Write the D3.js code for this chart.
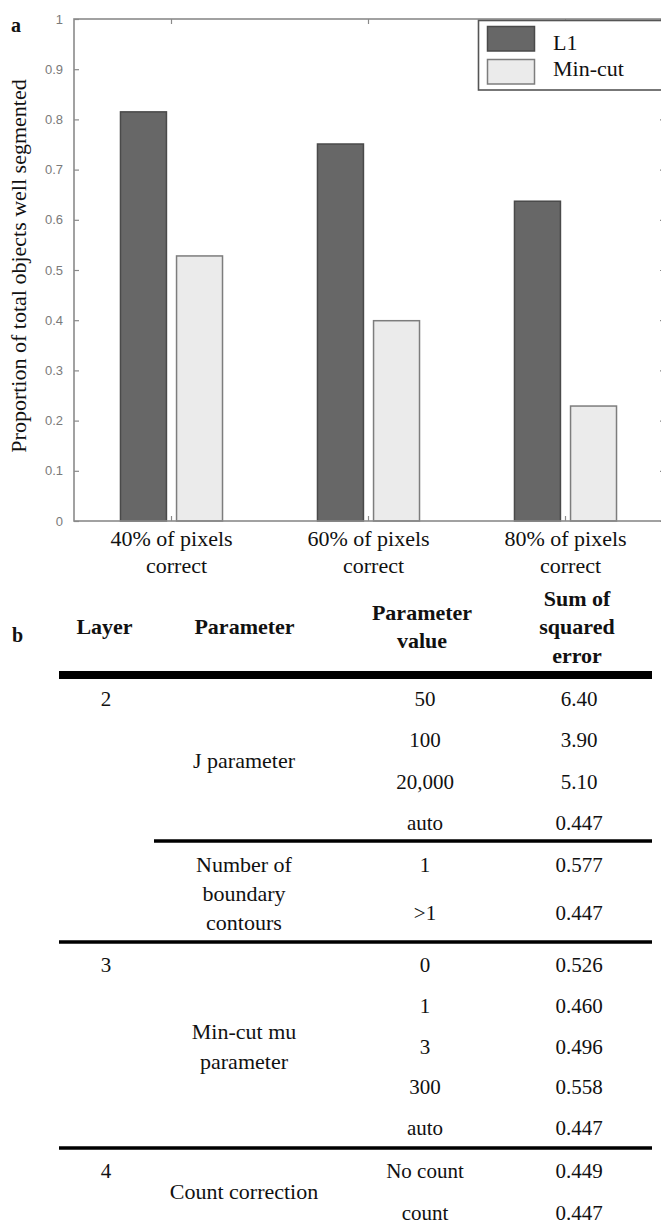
<!DOCTYPE html>
<html>
<head>
<meta charset="utf-8">
<script src="https://cdn.jsdelivr.net/npm/d3@7"></script>
<style>
  html, body { margin: 0; padding: 0; background: #fff; }
  svg { display: block; }
  .serif { font-family: "Liberation Serif", "Times New Roman", Tinos, serif; }
  .sans { font-family: "Liberation Sans", Arial, sans-serif; }
</style>
</head>
<body>
<svg id="fig" width="661" height="1226"></svg>
<script>
// ---------------- data: panel a ----------------
const categories = ["40% of pixels|correct", "60% of pixels|correct", "80% of pixels|correct"];
const seriesNames = ["L1", "Min-cut"];
const l1Values = [0.815, 0.751, 0.637];
const minCutValues = [0.528, 0.399, 0.229];
const yTickValues = [0, 0.1, 0.2, 0.3, 0.4, 0.5, 0.6, 0.7, 0.8, 0.9, 1];
const yAxisLabel = "Proportion of total objects well segmented";

// ---------------- data: panel b (table) ----------------
const tableHeaders = [["Layer"], ["Parameter"], ["Parameter", "value"], ["Sum of", "squared", "error"]];
const layerLabels = ["2", "", "3", "4"];
const parameterNames = [["J parameter"], ["Number of", "boundary", "contours"], ["Min-cut mu", "parameter"], ["Count correction"]];
const parameterValues = [
  ["50", "100", "20,000", "auto"],
  ["1", ">1"],
  ["0", "1", "3", "300", "auto"],
  ["No count", "count"]
];
const sumSquaredError = [
  ["6.40", "3.90", "5.10", "0.447"],
  ["0.577", "0.447"],
  ["0.526", "0.460", "0.496", "0.558", "0.447"],
  ["0.449", "0.447"]
];

// ---------------- layout ----------------
const svg = d3.select("#fig");
const SERIF = '"Liberation Serif", "Times New Roman", Tinos, serif';
const SANS = '"Liberation Sans", Arial, sans-serif';
const plot = { left: 74, right: 665, top: 19, bottom: 521 };
const fills = { "L1": "#676767", "Min-cut": "#ebebeb" };
const strokes = { "L1": "#4a4a4a", "Min-cut": "#7d7d7d" };

const x = d3.scaleBand().domain(categories).range([plot.left - 1, plot.right - 1])
  .paddingInner(0.482).paddingOuter(0.241);
const xs = d3.scaleBand().domain(seriesNames).range([0, x.bandwidth()]).paddingInner(0.18);
const y = d3.scaleLinear().domain([0, 1]).range([plot.bottom, plot.top]);

const barData = [];
categories.forEach((c, i) => {
  barData.push({ cat: c, s: "L1", v: l1Values[i] });
  barData.push({ cat: c, s: "Min-cut", v: minCutValues[i] });
});

function serifText(g, size, bold) {
  const t = g.append("text").attr("class", "serif").style("font-family", SERIF)
    .attr("font-size", size).attr("fill", "#111");
  if (bold) t.attr("font-weight", "bold");
  return t;
}

const gA = svg.append("g");

// panel letter
serifText(gA, 20, true).attr("x", 11).attr("y", 32).text("a");

// bars
gA.selectAll("rect.bar").data(barData).join("rect").attr("class", "bar")
  .attr("x", d => x(d.cat) + xs(d.s))
  .attr("width", xs.bandwidth())
  .attr("y", d => y(d.v))
  .attr("height", d => y(0) - y(d.v))
  .attr("fill", d => fills[d.s])
  .attr("stroke", d => strokes[d.s])
  .attr("stroke-width", 1.5);

// axes (inward ticks)
const axisColor = "#8a8a8a";
const leftAxis = gA.append("g").attr("transform", `translate(${plot.left},0)`)
  .call(d3.axisLeft(y).tickValues(yTickValues).tickSize(-5).tickPadding(11)
    .tickFormat(d => String(+d.toFixed(1))));
const rightAxis = gA.append("g").attr("transform", `translate(${plot.right},0)`)
  .call(d3.axisRight(y).tickValues(yTickValues).tickSize(-5).tickFormat(""));
const bottomAxis = gA.append("g").attr("transform", `translate(0,${plot.bottom})`)
  .call(d3.axisBottom(x).tickSize(-5).tickFormat(""));
const topAxis = gA.append("g").attr("transform", `translate(0,${plot.top})`)
  .call(d3.axisTop(x).tickSize(-5).tickFormat(""));
[leftAxis, rightAxis, bottomAxis, topAxis].forEach(a => {
  a.select(".domain").remove();
  a.selectAll(".tick line").attr("stroke", axisColor).attr("stroke-width", 1.2);
});
leftAxis.attr("font-family", null).attr("font-size", null);
leftAxis.selectAll(".tick text").attr("class", "sans").style("font-family", SANS)
  .attr("font-size", 13).attr("fill", "#7a7a7a");

// frame
gA.append("rect").attr("x", plot.left).attr("y", plot.top)
  .attr("width", plot.right - plot.left).attr("height", plot.bottom - plot.top)
  .attr("fill", "none").attr("stroke", axisColor).attr("stroke-width", 1.6);

// x labels (two lines)
categories.forEach(c => {
  const lines = c.split("|");
  const cx = x(c) + x.bandwidth() / 2;
  serifText(gA, 22).attr("x", cx).attr("y", 546).attr("text-anchor", "middle").text(lines[0]);
  serifText(gA, 22).attr("x", cx + 5).attr("y", 573).attr("text-anchor", "middle").text(lines[1]);
});

// y label
serifText(gA, 22).attr("transform", "translate(26,266) rotate(-90)")
  .attr("text-anchor", "middle").text(yAxisLabel);

// legend
const lg = gA.append("g");
lg.append("rect").attr("x", 478.5).attr("y", 20.5).attr("width", 220).attr("height", 69.5)
  .attr("fill", "#fff").attr("stroke", "#555").attr("stroke-width", 1.6);
seriesNames.forEach((s, i) => {
  lg.append("rect").attr("x", 487.5).attr("y", 26.5 + i * 33).attr("width", 47).attr("height", 24.5)
    .attr("fill", fills[s]).attr("stroke", strokes[s]).attr("stroke-width", 1.5);
  serifText(lg, 22).attr("x", 553).attr("y", 50 + i * 26).text(s);
});

// ---------------- panel b: table ----------------
const gB = svg.append("g");
const colX = [106, 244, 425, 579];
const headX = [104.5, 244.5, 422, 577];
const tableLeft = 59, tableRight = 652;

serifText(gB, 20, true).attr("x", 12).attr("y", 642).text("b");

tableHeaders.forEach((lines, i) => {
  const n = lines.length;
  lines.forEach((t, j) => {
    serifText(gB, 22, true).attr("x", headX[i]).attr("y", 634 + (j - (n - 1) / 2) * 28.5)
      .attr("text-anchor", "middle").text(t);
  });
});

// thick rule
gB.append("line").attr("x1", tableLeft).attr("x2", tableRight).attr("y1", 675).attr("y2", 675)
  .attr("stroke", "#000").attr("stroke-width", 8);

// section layout: first row baseline, row step, name line spacing, rule after
const sectionLayout = [
  { first: 706, step: 41.4, lineGap: 29, rule: 841, ruleX: 154 },
  { first: 872, step: 48, lineGap: 29, rule: 942, ruleX: tableLeft },
  { first: 972, step: 40.8, lineGap: 30, rule: 1148, ruleX: tableLeft },
  { first: 1178, step: 42, lineGap: 29, rule: null, ruleX: tableLeft }
];

parameterValues.forEach((vals, si) => {
  const L = sectionLayout[si];
  const rowY = d3.range(vals.length).map(k => L.first + k * L.step);
  if (layerLabels[si]) {
    serifText(gB, 21).attr("x", colX[0]).attr("y", rowY[0]).attr("text-anchor", "middle")
      .text(layerLabels[si]);
  }
  const names = parameterNames[si];
  const mid = (si === 1) ? (L.first + L.lineGap) : (rowY[0] + rowY[rowY.length - 1]) / 2;
  names.forEach((t, j) => {
    serifText(gB, 22).attr("x", colX[1])
      .attr("y", mid + (j - (names.length - 1) / 2) * L.lineGap)
      .attr("text-anchor", "middle").text(t);
  });
  vals.forEach((v, k) => {
    serifText(gB, 21).attr("x", colX[2]).attr("y", rowY[k]).attr("text-anchor", "middle").text(v);
    serifText(gB, 21).attr("x", colX[3]).attr("y", rowY[k]).attr("text-anchor", "middle")
      .text(sumSquaredError[si][k]);
  });
  if (L.rule) {
    gB.append("line").attr("x1", L.ruleX).attr("x2", tableRight).attr("y1", L.rule).attr("y2", L.rule)
      .attr("stroke", "#000").attr("stroke-width", 3.5);
  }
});
</script>
</body>
</html>
